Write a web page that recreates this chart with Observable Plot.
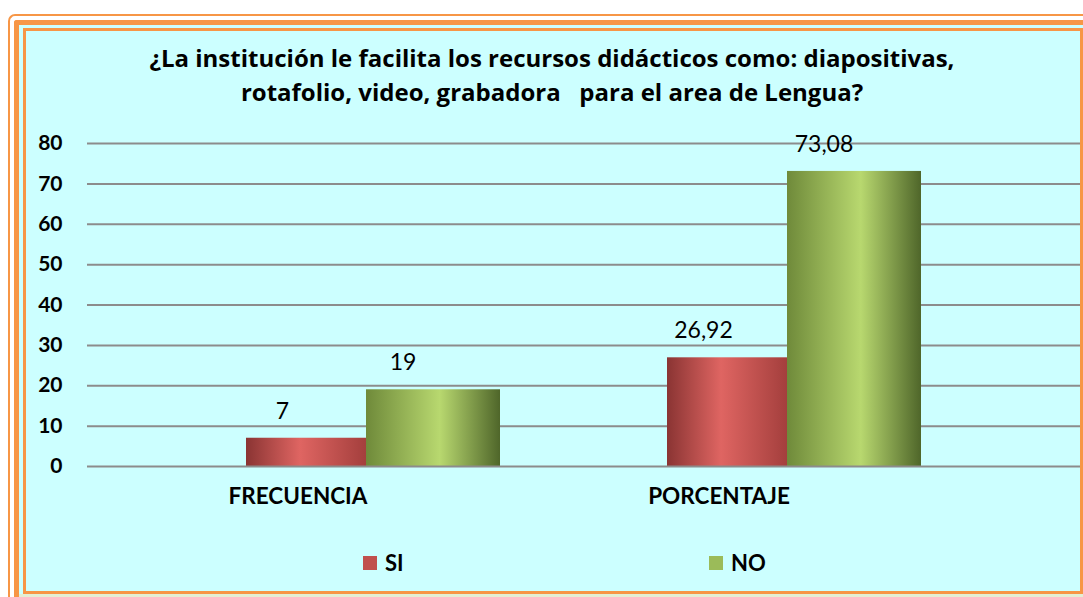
<!DOCTYPE html>
<html><head><meta charset="utf-8">
<script src="https://cdn.jsdelivr.net/npm/d3@7"></script>
<script src="https://cdn.jsdelivr.net/npm/@observablehq/plot@0.6"></script>
<style>
html,body{margin:0;padding:0;}
body{width:1083px;height:597px;overflow:hidden;background:#fff;position:relative;font-family:Lato,"Open Sans",sans-serif;}
.b{position:absolute;box-sizing:border-box;}
#thin{left:8px;top:14px;width:1200px;height:700px;border-top:2px solid #f79646;border-left:2px solid #f79646;border-top-left-radius:7px;}
#thick{left:14px;top:20px;width:1200px;height:700px;border-top:5px solid #f79646;border-left:5px solid #f79646;border-top-left-radius:3px;background:#ccffff;}
#inner{left:23px;top:28px;width:1060px;height:566px;border:3px solid #f79646;background:#ccffff;}
#pale{left:19px;top:594px;width:1100px;height:10px;background:#e4efd4;}
#title{position:absolute;left:52px;width:1000px;top:41px;text-align:center;font-family:"Open Sans",Lato,sans-serif;font-weight:bold;font-size:24px;line-height:34px;color:#000;white-space:pre;}
#chart{position:absolute;left:0;top:0;}
.leg{position:absolute;top:552px;font-weight:bold;font-size:22px;line-height:22px;color:#000;display:flex;align-items:center;}
.sw{width:14px;height:14px;margin-right:8px;display:inline-block;}
</style></head><body>
<div class="b" id="thin"></div>
<div class="b" id="thick"></div>
<div class="b" id="pale"></div>
<div class="b" id="inner"></div>
<div id="title">¿La institución le facilita los recursos didácticos como: diapositivas,
rotafolio, video, grabadora   para el area de Lengua?</div>
<div id="chart"></div>
<div class="leg" id="legSI"><span class="sw" style="background:#c0504d"></span>SI</div>
<div class="leg" id="legNO"><span class="sw" style="background:#9bbb59"></span>NO</div>
<script>
const categories = ["FRECUENCIA", "PORCENTAJE"];
const seriesNames = ["SI", "NO"];
const siValues = [7, 26.92];
const noValues = [19, 73.08];
const yTicks = [0, 10, 20, 30, 40, 50, 60, 70, 80];

const siRows = categories.map((c, i) => ({category: c, series: seriesNames[0], value: siValues[i]}));
const noRows = categories.map((c, i) => ({category: c, series: seriesNames[1], value: noValues[i]}));
const fmt = d => String(d).replace(".", ",");

const chart = Plot.plot({
  width: 1083,
  height: 520,
  marginLeft: 87,
  marginRight: 3,
  marginTop: 143,
  marginBottom: 54,
  style: {background: "transparent", fontFamily: "Lato, 'Open Sans', sans-serif", color: "#000", overflow: "visible"},
  x: {domain: categories, range: [87, 929], padding: 0, label: null},
  y: {domain: [0, 80], label: null},
  marks: [
    Plot.ruleY(yTicks.filter(d => d > 0), {stroke: "#8c8c8c", strokeWidth: 2}),
    Plot.barY(siRows, {x: "category", y: "value", fill: "url(#gSI)", insetLeft: 159, insetRight: 142}),
    Plot.barY(noRows, {x: "category", y: "value", fill: "url(#gNO)", insetLeft: 279, insetRight: 8}),
    Plot.ruleY([0], {stroke: "#8c8c8c", strokeWidth: 2}),
    Plot.axisY({ticks: yTicks, tickSize: 0, tickPadding: 25, fontSize: 21, fontWeight: "bold", fill: "#000", label: null, line: true, stroke: "#8c8c8c", strokeWidth: 2}),
    Plot.axisX({tickSize: 0, tickPadding: 22, fontSize: 22.5, fontWeight: "bold", fill: "#000", label: null}),
    Plot.text(siRows, {x: "category", y: "value", text: d => fmt(d.value), dx: -15.5, dy: -27, fontSize: 23, fill: "#000"}),
    Plot.text(noRows, {x: "category", y: "value", text: d => fmt(d.value), dx: 105, dy: -27, fontSize: 23, fill: "#000"})
  ]
});

d3.select(chart).insert("defs", ":first-child").html(`
<linearGradient id="gSI" x1="0" x2="1" y1="0" y2="0">
  <stop offset="0" stop-color="#8a3433"/>
  <stop offset="0.45" stop-color="#df6562"/>
  <stop offset="1" stop-color="#a43f3d"/>
</linearGradient>
<linearGradient id="gNO" x1="0" x2="1" y1="0" y2="0">
  <stop offset="0" stop-color="#6f8a3a"/>
  <stop offset="0.55" stop-color="#b8d86f"/>
  <stop offset="1" stop-color="#4f662a"/>
</linearGradient>`);

document.getElementById("chart").appendChild(chart);
document.getElementById("legSI").style.left = "363px";
document.getElementById("legNO").style.left = "709px";
</script>
</body></html>
